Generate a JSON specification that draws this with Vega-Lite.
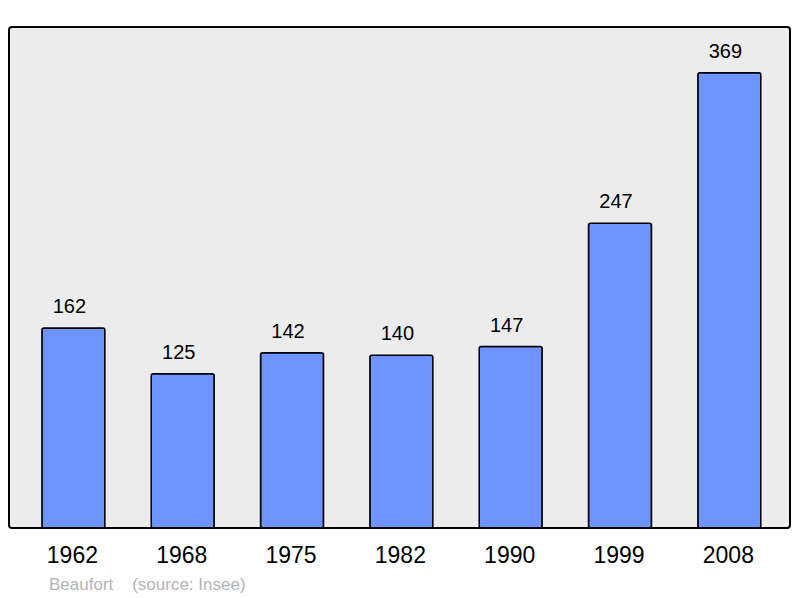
{
  "$schema": "https://vega.github.io/schema/vega-lite/v6.json",
  "autosize": {"type": "none"},
  "padding": {"left": 9, "top": 27, "right": 10, "bottom": 70},
  "width": 781,
  "height": 501,
  "background": "white",
  "data": {"values": [
    {"year": "1962", "pop": 162},
    {"year": "1968", "pop": 125},
    {"year": "1975", "pop": 142},
    {"year": "1982", "pop": 140},
    {"year": "1990", "pop": 147},
    {"year": "1999", "pop": 247},
    {"year": "2008", "pop": 369}
  ]},
  "title": {
    "text": "Beaufort\u00a0\u00a0\u00a0\u00a0(source: Insee)",
    "orient": "bottom",
    "anchor": "start",
    "dx": 40,
    "offset": 10,
    "color": "#b4b4b4",
    "fontSize": 17,
    "font": "Liberation Sans",
    "fontWeight": "normal"
  },
  "config": {
    "view": {"fill": "#ececec", "stroke": "#000000", "strokeWidth": 2, "cornerRadius": 3}
  },
  "encoding": {
    "x": {
      "field": "year", "type": "ordinal",
      "scale": {"paddingInner": 0.424, "paddingOuter": 0.284, "align": 0.53},
      "axis": {"title": null, "labelAngle": 0, "ticks": false, "domain": false, "labelFontSize": 23, "labelFont": "Liberation Sans", "labelColor": "#000000", "labelPadding": 16, "labelOffset": -1}
    },
    "y": {
      "field": "pop", "type": "quantitative",
      "scale": {"domain": [0, 406], "nice": false},
      "axis": null
    }
  },
  "layer": [
    {"mark": {"type": "bar", "color": "#7094ff", "stroke": "#000000", "strokeWidth": 1.5, "cornerRadius": 2}},
    {"mark": {"type": "text", "baseline": "alphabetic", "dy": -15, "dx": -4, "fontSize": 20, "font": "Liberation Sans", "color": "#000000"},
     "encoding": {"text": {"field": "pop", "type": "quantitative"}}}
  ]
}
